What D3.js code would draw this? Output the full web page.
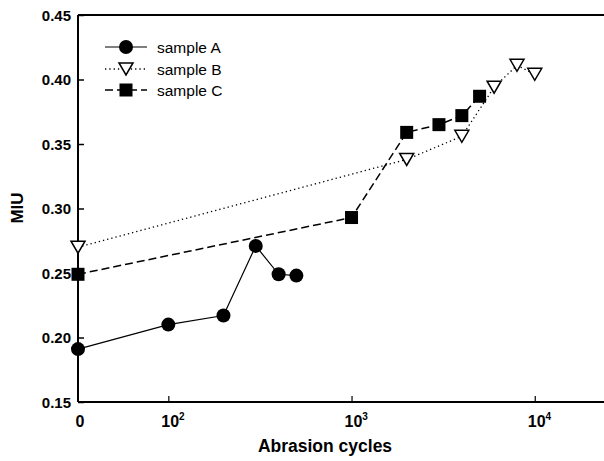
<!DOCTYPE html>
<html>
<head>
<meta charset="utf-8">
<script src="https://cdn.jsdelivr.net/npm/d3@7"></script>
<style>
  html, body { margin: 0; padding: 0; background: #fff; }
  svg { display: block; font-family: "Liberation Sans", Arial, sans-serif; }
</style>
</head>
<body>
<svg id="chart" width="604" height="461"></svg>
<script>
// Abrasion cycles (0 is placed at the left end of the log axis)
const cyclesA = [0, 100, 200, 300, 400, 500];
const miuA    = [0.191, 0.210, 0.217, 0.271, 0.249, 0.248];

const cyclesB = [0, 2000, 4000, 6000, 8000, 10000];
const miuB    = [0.270, 0.338, 0.356, 0.394, 0.411, 0.404];

const cyclesC = [0, 1000, 2000, 3000, 4000, 5000];
const miuC    = [0.249, 0.293, 0.359, 0.365, 0.372, 0.387];

const seriesNames = ["sample A", "sample B", "sample C"];
const xTickExps = [2, 3, 4];
const yTicks = [0.15, 0.20, 0.25, 0.30, 0.35, 0.40, 0.45];

const svg = d3.select("#chart");
const plotL = 78, plotR = 604, plotT = 15, plotB = 402;

const x = d3.scaleLog().domain([Math.pow(10, 1.507), Math.pow(10, 4.378)]).range([plotL, plotR]);
const y = d3.scaleLinear().domain([0.15, 0.45]).range([plotB, plotT]);
const xPos = v => v === 0 ? x.range()[0] : x(v);

const g = svg.append("g");

// frame: top line
g.append("line").attr("x1", plotL).attr("x2", plotR).attr("y1", plotT).attr("y2", plotT)
  .attr("stroke", "#000").attr("stroke-width", 2);

// y axis with inward ticks
const yAxis = d3.axisRight(y).tickValues(yTicks).tickSize(6).tickFormat("");
const ya = g.append("g").attr("transform", `translate(${plotL},0)`).call(yAxis);
ya.select(".domain").attr("stroke-width", 2).attr("d", `M0,${plotT}V${plotB}`);
ya.selectAll(".tick line").attr("stroke-width", 1.5);
g.selectAll(".ylab").data(yTicks).join("text")
  .attr("x", plotL - 7).attr("y", d => y(d) + 5.5)
  .attr("text-anchor", "end").attr("font-size", 15).attr("font-weight", "bold")
  .text(d => d.toFixed(2));

// x axis with inward ticks at the decades
const xTickVals = xTickExps.map(e => Math.pow(10, e));
const xAxis = d3.axisTop(x).tickValues(xTickVals).tickSize(6).tickFormat("");
const xa = g.append("g").attr("transform", `translate(0,${plotB})`).call(xAxis);
xa.select(".domain").attr("stroke-width", 2).attr("d", `M${plotL},0H${plotR}`);
xa.selectAll(".tick line").attr("stroke-width", 1.2);

g.append("text").attr("x", xPos(0) + 2).attr("y", plotB + 25)
  .attr("text-anchor", "middle").attr("font-size", 16).attr("font-weight", "bold").text("0");
xTickExps.forEach(e => {
  const t = g.append("text").attr("x", x(Math.pow(10, e)) - 7).attr("y", plotB + 25)
    .attr("text-anchor", "start").attr("font-size", 16).attr("font-weight", "bold");
  t.append("tspan").text("10");
  t.append("tspan").attr("dy", -7).attr("font-size", 10).text(e);
});

// axis titles
g.append("text").attr("x", 325).attr("y", 452).attr("text-anchor", "middle")
  .attr("font-size", 17.5).attr("font-weight", "bold").text("Abrasion cycles");
g.append("text").attr("transform", "translate(23,208) rotate(-90)")
  .attr("text-anchor", "middle").attr("font-size", 17).attr("font-weight", "bold").text("MIU");

const line = d3.line().x(d => xPos(d[0])).y(d => y(d[1]));
const pts = (cs, ms) => cs.map((c, i) => [c, ms[i]]);

const styles = [
  { dash: null, width: 1.2 },
  { dash: "1.3,3", width: 1.3 },
  { dash: "8,4", width: 1.5 }
];

const tri = "M-7,-6L7,-6L0,6Z";

function marker(sel, k) {
  if (k === 0) sel.append("circle").attr("r", 7).attr("fill", "#000");
  else if (k === 1) sel.append("path").attr("d", tri).attr("fill", "#fff").attr("stroke", "#000").attr("stroke-width", 1.5);
  else sel.append("rect").attr("x", -6.5).attr("y", -6.5).attr("width", 13).attr("height", 13).attr("fill", "#000");
}

const data = [pts(cyclesA, miuA), pts(cyclesB, miuB), pts(cyclesC, miuC)];

// lines first, then markers on top
[1, 2, 0].forEach(k => {
  g.append("path").datum(data[k]).attr("d", line).attr("fill", "none")
    .attr("stroke", "#000").attr("stroke-width", styles[k].width)
    .attr("stroke-dasharray", styles[k].dash);
});
[1, 2, 0].forEach(k => {
  g.selectAll(null).data(data[k]).join("g")
    .attr("transform", d => `translate(${xPos(d[0])},${y(d[1])})`)
    .each(function() { marker(d3.select(this), k); });
});

// legend
const legendY = [47, 69, 90];
seriesNames.forEach((name, k) => {
  const ly = legendY[k];
  g.append("line").attr("x1", 105).attr("x2", 147).attr("y1", ly).attr("y2", ly)
    .attr("stroke", "#000").attr("stroke-width", styles[k].width)
    .attr("stroke-dasharray", styles[k].dash);
  const m = g.append("g").attr("transform", `translate(126,${ly})`);
  marker(m, k);
  g.append("text").attr("x", 157).attr("y", ly + 5.5).attr("font-size", 15.5).text(name);
});
</script>
</body>
</html>
